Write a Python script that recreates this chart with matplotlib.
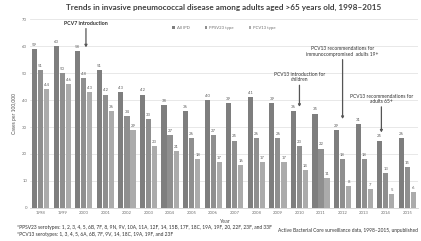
import matplotlib
matplotlib.use("Agg")
import matplotlib.pyplot as plt
import numpy as np

years = [str(y) for y in range(1998, 2016)]
all_ipd = [59, 60, 58, 51, 43, 42, 38, 36, 40, 39, 41, 39, 36, 35, 29, 31, 25, 26]
ppsv23 = [51, 50, 48, 42, 34, 33, 27, 26, 27, 25, 26, 26, 23, 22, 18, 18, 13, 15]
pcv13 = [44, 46, 43, 36, 29, 23, 21, 18, 17, 16, 17, 17, 14, 11, 8, 7, 5, 6]
series_names = ["All IPD", "PPSV23 type", "PCV13 type"]
colors = ["#7e7e7e", "#8f8f8f", "#ababab"]

plt.rcParams['font.family'] = ['Lato', 'DejaVu Sans']

fig = plt.figure(figsize=(4.21, 2.41), dpi=100)
ax = fig.add_axes([0.071, 0.137, 0.922, 0.784])

x = np.arange(len(years))
w = 0.24
for i, (vals, name, c) in enumerate(zip([all_ipd, ppsv23, pcv13], series_names, colors)):
    pos = x + (i - 1) * 0.28
    ax.bar(pos, vals, width=w, color=c, label=name, zorder=3)
    for p, v in zip(pos, vals):
        ax.text(p, v + 0.8, str(v), ha='center', va='bottom', fontsize=3.1, color='#606060')

ax.set_xlim(-0.5, len(years) - 0.5)
ax.set_ylim(0, 70)
ax.set_yticks(range(0, 71, 10))
ax.set_xticks(x)
ax.set_xticklabels(years)
ax.tick_params(axis='both', labelsize=3.1, colors='#707070', length=0, pad=2)
ax.grid(axis='y', color='#e4e4e4', linewidth=0.6, zorder=0)
for s in ['top', 'right', 'left']:
    ax.spines[s].set_visible(False)
ax.spines['bottom'].set_color('#d0d0d0')
ax.spines['bottom'].set_linewidth(0.6)
ax.set_ylabel("Cases per 100,000", fontsize=3.6, color='#505050', labelpad=4)
ax.set_xlabel("Year", fontsize=3.9, color='#505050', labelpad=3)

ax.legend(loc='upper center', bbox_to_anchor=(0.5, 0.985), ncol=3, fontsize=3.1,
          frameon=False, handlelength=0.6, handleheight=0.6, columnspacing=3.5,
          handletextpad=0.4, labelcolor='#707070')

fig.suptitle("Trends in invasive pneumococcal disease among adults aged >65 years old, 1998\u20132015",
             x=0.53, y=0.985, fontsize=5.9, fontweight='bold', color='#404040')

arrow = dict(arrowstyle='-|>,head_length=0.35,head_width=0.2', color='#555555', lw=0.9, shrinkA=0, shrinkB=0)
ax.annotate("PCV7 introduction", xy=(2.1, 59.5), xytext=(2.1, 67.5), ha='center', va='bottom',
            fontsize=3.8, fontweight='bold', color='#303030', arrowprops=arrow)
ax.annotate("PCV13 introduction for\nchildren", xy=(12.0, 37.5), xytext=(12.0, 46.5), ha='center', va='bottom',
            fontsize=3.5, color='#303030', linespacing=1.1, arrowprops=arrow)
ax.annotate("PCV13 recommendations for\nimmunocompromised  adults 19+", xy=(14.0, 33), xytext=(14.0, 56),
            ha='center', va='bottom', fontsize=3.5, color='#303030', linespacing=1.1, arrowprops=arrow)
ax.annotate("PCV13 recommendations for\nadults 65+", xy=(15.8, 28), xytext=(15.8, 38.5), ha='center', va='bottom',
            fontsize=3.5, color='#303030', linespacing=1.1, arrowprops=arrow)

fig.text(0.04, 0.055, "*PPSV23 serotypes: 1, 2, 3, 4, 5, 6B, 7F, 8, 9N, 9V, 10A, 11A, 12F, 14, 15B, 17F, 18C, 19A, 19F, 20, 22F, 23F, and 33F",
         fontsize=3.5, color='#303030', ha='left', va='center')
fig.text(0.04, 0.027, "*PCV13 serotypes: 1, 3, 4, 5, 6A, 6B, 7F, 9V, 14, 18C, 19A, 19F, and 23F",
         fontsize=3.5, color='#303030', ha='left', va='center')
fig.text(0.993, 0.045, "Active Bacterial Core surveillance data, 1998\u20132015, unpublished",
         fontsize=3.5, color='#303030', ha='right', va='center')

fig.savefig("out.png", dpi=100)
